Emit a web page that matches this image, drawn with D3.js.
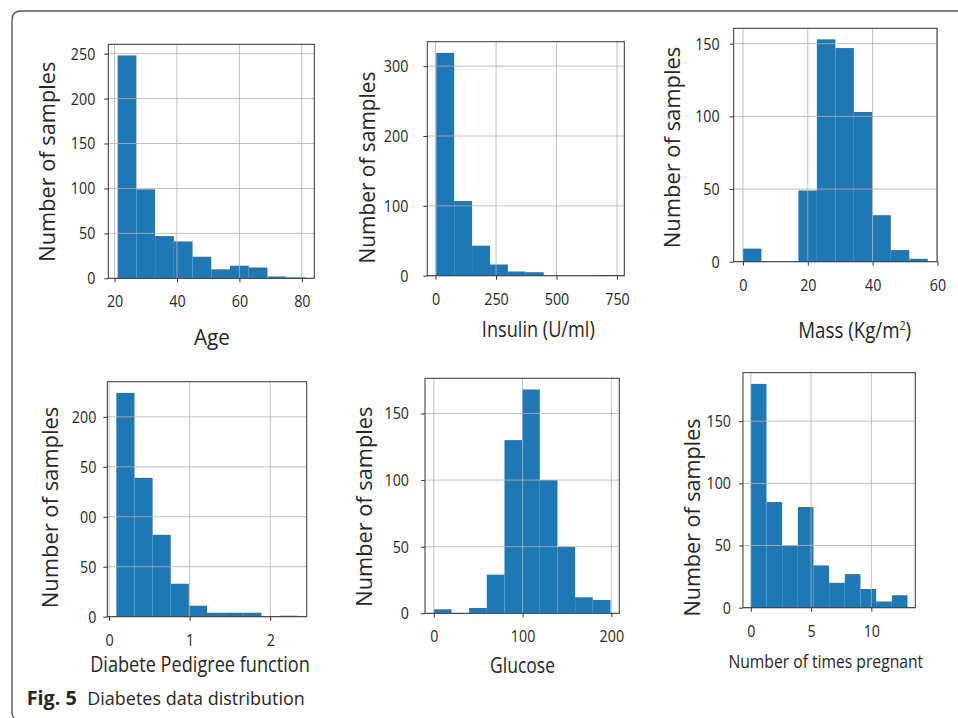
<!DOCTYPE html>
<html>
<head>
<meta charset="utf-8">
<script src="https://cdn.jsdelivr.net/npm/d3@7"></script>
<style>
  body { margin: 0; background: #fff; }
  svg { display: block; }
  text { font-family: "Open Sans", sans-serif; fill: #262626; }
</style>
</head>
<body>
<div id="chart"></div>
<script>
// histogram bin edges / counts
var ageEdges = [21, 27, 33, 39, 45, 51, 57, 63, 69, 75, 81];
var ageCounts = [248, 99, 47, 41, 24, 10, 14, 12, 2, 1];

var insulinEdges = [3, 77, 151, 225, 299, 373, 447, 521, 595, 669, 743];
var insulinCounts = [319, 107, 43, 16, 6, 5, 0, 0, 0, 1];

var massEdges = [0, 5.7, 11.4, 17.1, 22.8, 28.5, 34.2, 39.9, 45.6, 51.3, 57];
var massCounts = [9, 0, 0, 49, 153, 147, 103, 32, 8, 2];

var dpfEdges = [0.09, 0.315, 0.54, 0.765, 0.99, 1.215, 1.44, 1.665, 1.89, 2.115, 2.34];
var dpfCounts = [224, 139, 82, 33, 11, 4, 4, 4, 0, 1];

var glucoseEdges = [0, 19.9, 39.8, 59.7, 79.6, 99.5, 119.4, 139.3, 159.2, 179.1, 199];
var glucoseCounts = [3, 0, 4, 29, 130, 168, 100, 50, 12, 10];

var pregEdges = [0, 1.3, 2.6, 3.9, 5.2, 6.5, 7.8, 9.1, 10.4, 11.7, 13];
var pregCounts = [180, 85, 50, 81, 34, 20, 27, 15, 5, 10];

// axis ticks
var ageXTicks = [20, 40, 60, 80], ageYTicks = [0, 50, 100, 150, 200, 250];
var insulinXTicks = [0, 250, 500, 750], insulinYTicks = [0, 100, 200, 300];
var massXTicks = [0, 20, 40, 60], massYTicks = [0, 50, 100, 150];
var dpfXTicks = [0, 1, 2], dpfYTicks = [0, 50, 100, 150, 200];
var dpfYLabels = ["0", "50", "00", "50", "200"];   // clipped in the original
var glucoseXTicks = [0, 100, 200], glucoseYTicks = [0, 50, 100, 150];
var pregXTicks = [0, 5, 10], pregYTicks = [0, 50, 100, 150];

var W = 958, H = 718;
var svg = d3.select("#chart").append("svg")
  .attr("width", W)
  .attr("height", H);

// rounded figure frame (open at right and bottom)
svg.append("path")
  .attr("d", "M958,11H21Q12,11 12,20V712Q12,716 14,718")
  .attr("fill", "none")
  .attr("stroke", "#555")
  .attr("stroke-width", 1.4);

var panels = [
  {edges: ageEdges, counts: ageCounts, xDomain: [18, 84], yDomain: [0, 260.4],
   xTicks: ageXTicks, yTicks: ageYTicks, box: [108.3, 314.3, 44.3, 278.3], gap: 9,
   yl: [55, 161.7, 200], xl: {text: "Age", cx: 212, base: 345, w: 36, fs: 21}},
  {edges: insulinEdges, counts: insulinCounts, xDomain: [-34, 780], yDomain: [0, 335],
   xTicks: insulinXTicks, yTicks: insulinYTicks, box: [427.3, 624.3, 41.7, 275.7], gap: 15,
   yl: [375, 167.5, 192], xl: {text: "Insulin (U/ml)", cx: 538.3, base: 336.7, w: 113, fs: 21}},
  {edges: massEdges, counts: massCounts, xDomain: [-2.85, 59.85], yDomain: [0, 160.6],
   xTicks: massXTicks, yTicks: massYTicks, box: [733.7, 937, 28.3, 261.7], gap: 10,
   yl: [679.7, 147.5, 201.7], xl: {text: "Mass (Kg/m", sup: "2", tail: ")", cx: 854.7, base: 338.3, w: 113, fs: 21}},
  {edges: dpfEdges, counts: dpfCounts, xDomain: [-0.0225, 2.4525], yDomain: [0, 235.2],
   xTicks: dpfXTicks, yTicks: dpfYTicks, yLabels: dpfYLabels, box: [107.3, 306.7, 381.7, 616.7], gap: 7,
   yl: [58.3, 507.5, 201.7], xl: {text: "Diabete Pedigree function", cx: 200, base: 671.7, w: 220, fs: 21}},
  {edges: glucoseEdges, counts: glucoseCounts, xDomain: [-9.95, 208.95], yDomain: [0, 176.4],
   xTicks: glucoseXTicks, yTicks: glucoseYTicks, box: [425, 619.3, 378.3, 613.3], gap: 12,
   yl: [371.7, 506.7, 200], xl: {text: "Glucose", cx: 522.5, base: 673.3, w: 65, fs: 21}},
  {edges: pregEdges, counts: pregCounts, xDomain: [-0.65, 13.65], yDomain: [0, 189],
   xTicks: pregXTicks, yTicks: pregYTicks, box: [743, 915.3, 372.7, 607.7], gap: 8,
   yl: [699.7, 517.5, 198.3], xl: {text: "Number of times pregnant", cx: 825.8, base: 668.3, w: 195, fs: 19}}
];

// squeeze text to a target width
function squeeze(t, w) {
  return w / t.node().getComputedTextLength();
}

function drawHist(p) {
  var b = p.box;
  var x = d3.scaleLinear().domain(p.xDomain).range([b[0], b[1]]);
  var y = d3.scaleLinear().domain(p.yDomain).range([b[3], b[2]]);
  var bins = p.counts.map(function(c, i) { return {x0: p.edges[i], x1: p.edges[i + 1], n: c}; });

  var g = svg.append("g");

  g.selectAll(".bar")
    .data(bins)
    .enter().append("rect")
    .attr("class", "bar")
    .attr("x", function(d) { return x(d.x0); })
    .attr("width", function(d) { return x(d.x1) - x(d.x0); })
    .attr("y", function(d) { return y(d.n); })
    .attr("height", function(d) { return y(0) - y(d.n); })
    .style("fill", "#1f77b4");

  // grid on top of bars, like the original
  g.selectAll(".vgrid")
    .data(p.xTicks)
    .enter().append("line")
    .attr("x1", function(d) { return x(d); })
    .attr("x2", function(d) { return x(d); })
    .attr("y1", b[2]).attr("y2", b[3])
    .attr("stroke", "#b0b0b0").attr("stroke-opacity", 0.8).attr("stroke-width", 1);
  g.selectAll(".hgrid")
    .data(p.yTicks)
    .enter().append("line")
    .attr("y1", function(d) { return y(d); })
    .attr("y2", function(d) { return y(d); })
    .attr("x1", b[0]).attr("x2", b[1])
    .attr("stroke", "#b0b0b0").attr("stroke-opacity", 0.8).attr("stroke-width", 1);

  // spines
  g.append("rect")
    .attr("x", b[0]).attr("y", b[2])
    .attr("width", b[1] - b[0]).attr("height", b[3] - b[2])
    .attr("fill", "none").attr("stroke", "#333").attr("stroke-width", 1);

  var yAxis = d3.axisLeft(y).tickValues(p.yTicks).tickSize(4).tickPadding(p.gap);
  if (p.yLabels) yAxis.tickFormat(function(d, i) { return p.yLabels[i]; });
  var ya = g.append("g")
    .attr("transform", "translate(" + b[0] + ",0)")
    .call(yAxis);
  var xa = g.append("g")
    .attr("transform", "translate(0," + b[3] + ")")
    .call(d3.axisBottom(x).tickValues(p.xTicks).tickSize(4).tickPadding(13).tickFormat(d3.format("~g")));

  [ya, xa].forEach(function(a) {
    a.select(".domain").remove();
    a.selectAll("line").attr("stroke", "#333");
    a.selectAll("text")
      .style("font-size", "17px")
      .style("font-family", "'Open Sans', sans-serif")
      .attr("fill", "#262626")
      .each(function() {
        var t = d3.select(this);
        var tx = +t.attr("x") || 0;
        t.attr("x", 0).attr("transform", "translate(" + tx + ",0) scale(0.84,1)");
      });
  });

  // y label
  var yt = g.append("text")
    .attr("text-anchor", "middle")
    .style("font-size", "21px")
    .text("Number of samples");
  yt.attr("transform", "translate(" + p.yl[0] + "," + p.yl[1] + ") rotate(-90) scale(" + squeeze(yt, p.yl[2]) + ",1)");

  // x label
  var xt = g.append("text")
    .attr("text-anchor", "middle")
    .style("font-size", p.xl.fs + "px")
    .text(p.xl.text);
  if (p.xl.sup) {
    xt.append("tspan").attr("dy", -8).style("font-size", "12px").text(p.xl.sup);
    xt.append("tspan").attr("dy", 8).text(p.xl.tail);
  }
  xt.attr("transform", "translate(" + p.xl.cx + "," + p.xl.base + ") scale(" + squeeze(xt, p.xl.w) + ",1)");
}

panels.forEach(drawHist);

// caption
var cap1 = svg.append("text")
  .style("font-size", "19px")
  .style("font-weight", "bold")
  .text("Fig. 5");
cap1.attr("transform", "translate(26.7,704.5) scale(" + squeeze(cap1, 50) + ",1)");
var cap2 = svg.append("text")
  .style("font-size", "19px")
  .text("Diabetes data distribution");
cap2.attr("transform", "translate(87.3,704.5) scale(" + squeeze(cap2, 217.7) + ",1)");
</script>
</body>
</html>
